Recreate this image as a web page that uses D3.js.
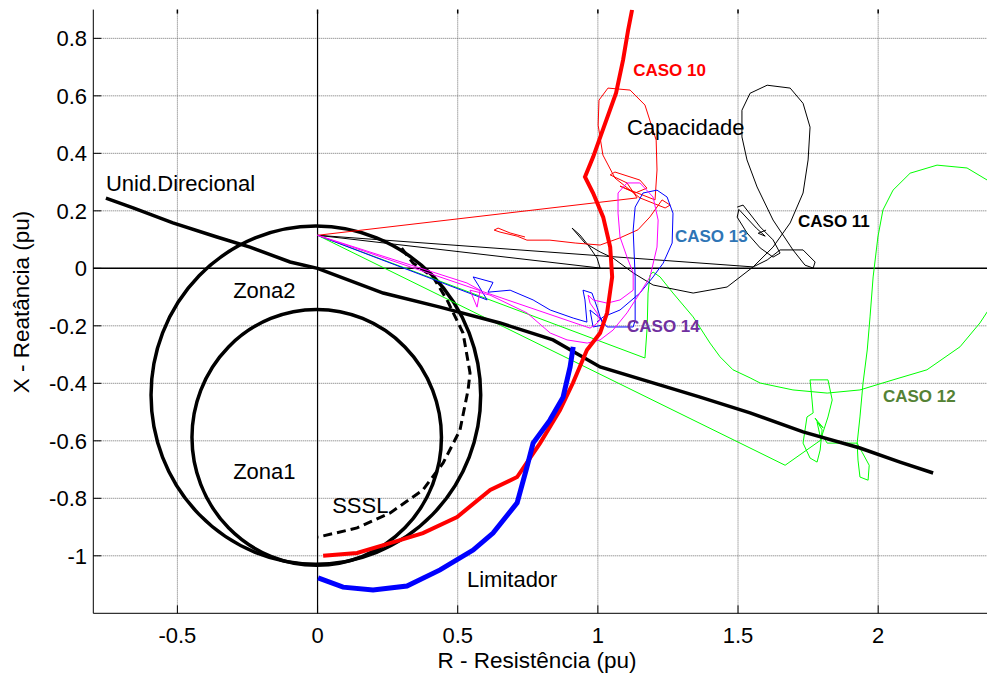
<!DOCTYPE html>
<meta charset="utf-8">
<title>Trajetorias de impedancia</title>

<style>
body{
	margin: 0;
	background: white;
}
text{
	font-family: "Liberation Sans", Arial, sans-serif;
}
</style>

<body>

<script src="https://d3js.org/d3.v7.min.js"></script>

<script>

var width = 987;
var height = 683;

// ticks
var xTicks = [-0.5, 0, 0.5, 1, 1.5, 2];
var xTickLabels = ['-0.5', '0', '0.5', '1', '1.5', '2'];
var yTicks = [-1, -0.8, -0.6, -0.4, -0.2, 0, 0.2, 0.4, 0.6, 0.8];
var yTickLabels = ['-1', '-0.8', '-0.6', '-0.4', '-0.2', '0', '0.2', '0.4', '0.6', '0.8'];

// zonas mho (centro R, centro X, raio)
var zonaNomes = ['Zona1', 'Zona2'];
var zonaCentroR = [-0.003, -0.006];
var zonaCentroX = [-0.588, -0.441];
var zonaRaio = [0.445, 0.588];

// unidade direcional
var direcional = [[-0.755, 0.244], [-0.658, 0.210], [-0.516, 0.158], [-0.359, 0.109], [-0.241, 0.074],
	[-0.098, 0.022], [0, 0], [0.234, -0.086], [0.437, -0.135], [0.651, -0.190], [0.840, -0.249],
	[1.008, -0.343], [1.247, -0.413], [1.365, -0.448], [1.543, -0.503], [1.732, -0.569],
	[1.935, -0.625], [2.078, -0.674], [2.196, -0.712]];

// SSSL (tracejado)
var sssl = [[0.300, 0.070], [0.341, 0.018], [0.412, -0.030], [0.462, -0.110], [0.519, -0.225],
	[0.544, -0.364], [0.537, -0.423], [0.508, -0.563], [0.448, -0.677], [0.376, -0.771],
	[0.259, -0.851], [0.141, -0.903], [0.002, -0.935]];

// limite de capacidade (vermelho grosso)
var capacidade = [[0.020, -1.000], [0.141, -0.990], [0.259, -0.956], [0.376, -0.921], [0.498, -0.865],
	[0.616, -0.771], [0.712, -0.726], [0.794, -0.608], [0.865, -0.493], [0.911, -0.399],
	[0.961, -0.284], [1.008, -0.225], [1.033, -0.155], [1.051, -0.030], [1.044, 0.074],
	[1.019, 0.178], [0.983, 0.262], [0.954, 0.318], [0.983, 0.387], [1.019, 0.485],
	[1.065, 0.610], [1.090, 0.725], [1.108, 0.829], [1.122, 0.899]];

// limitador (azul grosso)
var limitador = [[0.002, -1.077], [0.091, -1.109], [0.198, -1.119], [0.319, -1.105], [0.437, -1.049],
	[0.555, -0.980], [0.626, -0.921], [0.712, -0.816], [0.747, -0.691], [0.769, -0.608],
	[0.829, -0.528], [0.876, -0.448], [0.901, -0.343], [0.912, -0.273]];

// trajetorias
var caso10 = [[0, 0.115], [1.140, 0.245], [1.104, 0.297], [1.044, 0.325], [1.061, 0.335], [1.150, 0.307],
	[1.175, 0.279], [1.133, 0.262], [1.079, 0.286], [1.204, 0.238], [1.211, 0.342], [1.208, 0.446],
	[1.168, 0.568], [1.115, 0.620], [1.036, 0.627], [1.004, 0.585], [1.001, 0.498], [1.018, 0.394],
	[1.061, 0.314], [1.150, 0.245], [1.240, 0.210], [1.258, 0.220], [1.229, 0.238], [1.186, 0.179],
	[1.143, 0.134], [1.079, 0.106], [1.008, 0.081], [0.919, 0.088], [0.829, 0.098], [0.747, 0.098],
	[0.712, 0.112], [0.651, 0.126], [0.630, 0.133], [0.644, 0.140], [0.687, 0.123], [0.740, 0.109]];

var caso11 = [[0, 0.115], [1.554, 0.005], [1.604, 0.029], [1.650, 0.064], [1.732, 0.064], [1.775, 0.022],
	[1.768, 0.001], [1.739, 0.011], [1.696, 0.064], [1.625, 0.168], [1.568, 0.283], [1.532, 0.377],
	[1.514, 0.457], [1.514, 0.550], [1.543, 0.609], [1.604, 0.637], [1.686, 0.627], [1.732, 0.574],
	[1.757, 0.491], [1.750, 0.377], [1.732, 0.262], [1.686, 0.158], [1.625, 0.074], [1.554, 0.005],
	[1.461, -0.065], [1.340, -0.086], [1.197, -0.058], [1.126, -0.016], [1.054, 0.036], [1.008, 0.057],
	[0.954, 0.088], [0.908, 0.140], [0.936, 0.116], [0.965, 0.081], [0.997, 0.036], [1.008, 0.001],
	[0, 0.115]];
var caso11b = [[1.497, 0.213], [1.518, 0.220], [1.579, 0.144], [1.625, 0.099], [1.650, 0.053],
	[1.625, 0.039], [1.579, 0.071], [1.532, 0.123], [1.497, 0.178], [1.503, 0.205],
	[1.565, 0.140], [1.597, 0.112], [1.572, 0.122], [1.600, 0.133]];

var caso12 = [[0, 0.115], [1.168, -0.312], [1.176, -0.204], [1.179, -0.086], [1.186, -0.023],
	[1.197, -0.013], [1.222, -0.030], [1.268, -0.086], [1.340, -0.169], [1.400, -0.260], [1.436, -0.308],
	[1.482, -0.353], [1.543, -0.381], [1.579, -0.399], [1.696, -0.423], [1.818, -0.434], [1.935, -0.423],
	[2.053, -0.388], [2.174, -0.353], [2.292, -0.273], [2.363, -0.190], [2.417, -0.110], [2.446, 0.064],
	[2.425, 0.272], [2.389, 0.307], [2.317, 0.349], [2.210, 0.359], [2.114, 0.331], [2.053, 0.272],
	[2.017, 0.203], [1.999, 0.109], [1.982, -0.030], [1.971, -0.169], [1.961, -0.284], [1.946, -0.399],
	[1.935, -0.517], [1.925, -0.608], [1.943, -0.640], [1.968, -0.685], [1.964, -0.737], [1.935, -0.726],
	[1.928, -0.667], [1.925, -0.608], [1.864, -0.608], [1.818, -0.608], [1.800, -0.580], [1.821, -0.517],
	[1.836, -0.458], [1.821, -0.388], [1.757, -0.388], [1.764, -0.458], [1.768, -0.503], [1.746, -0.517],
	[1.732, -0.608], [1.757, -0.660], [1.782, -0.674], [1.793, -0.632], [1.800, -0.562], [1.775, -0.521],
	[1.804, -0.555], [1.782, -0.535], [1.796, -0.597], [1.668, -0.685], [0, 0.115]];

var caso13 = [[0, 0.115], [0.605, -0.110], [0.573, -0.058], [0.555, -0.030], [0.626, -0.049],
	[0.608, -0.083], [0.687, -0.076], [0.769, -0.110], [0.830, -0.145], [0.912, -0.173], [0.961, -0.187],
	[0.954, -0.110], [0.947, -0.076], [0.979, -0.086], [0.997, -0.135], [1.008, -0.169], [1.019, -0.197],
	[0.983, -0.204], [0.972, -0.145], [1.008, -0.173], [1.033, -0.204], [1.126, -0.204], [1.133, -0.180],
	[1.133, -0.030], [1.126, 0.133], [1.133, 0.213], [1.161, 0.262], [1.211, 0.272], [1.247, 0.248],
	[1.268, 0.192], [1.265, 0.088], [1.233, 0.018], [1.197, -0.030], [1.150, -0.086], [1.079, -0.145],
	[1.019, -0.169], [0.997, -0.187]];

var caso14 = [[0, 0.115], [0.533, -0.051], [0.580, -0.076], [0.569, -0.135], [0.544, -0.076],
	[0.615, -0.093], [0.747, -0.155], [0.830, -0.225], [0.890, -0.249], [0.962, -0.260], [1.008, -0.249],
	[1.054, -0.215], [1.104, -0.155], [1.150, -0.086], [1.186, -0.030], [1.211, 0.074], [1.215, 0.168],
	[1.197, 0.248], [1.150, 0.297], [1.104, 0.297], [1.072, 0.262], [1.072, 0.192], [1.079, 0.109],
	[1.104, 0.039], [1.126, -0.016], [1.126, -0.076], [1.079, -0.110], [1.033, -0.121], [0.983, -0.110],
	[0.965, -0.093], [0.972, -0.121], [0.997, -0.155], [1.008, -0.180], [0.990, -0.197], [0.972, -0.208],
	[0, 0.115]];

// textos
var textos = ['Unid.Direcional', 'Zona2', 'Zona1', 'SSSL', 'Limitador', 'Capacidade'];
var textosR = [-0.755, -0.301, -0.301, 0.052, 0.533, 1.104];
var textosX = [0.269, -0.103, -0.733, -0.851, -1.108, 0.463];

var casos = ['CASO 10', 'CASO 11', 'CASO 12', 'CASO 13', 'CASO 14'];
var casosR = [1.126, 1.714, 2.017, 1.275, 1.104];
var casosX = [0.669, 0.144, -0.465, 0.092, -0.222];
var casosCor = ['#ff0000', '#000000', '#548235', '#2e75b6', '#7030a0'];


var x = d3.scaleLinear().domain([-0.8, 2.4]).range([93.3, 990.3]);
var y = d3.scaleLinear().domain([-1.2, 0.9]).range([613.3, 9.6]);

var line = d3.line()
	.x(function(d){ return x(d[0]); })
	.y(function(d){ return y(d[1]); });

var svg = d3.select('body')
	.append('svg')
	.attr('width', width)
	.attr('height', height);

svg.append('clipPath')
	.attr('id', 'area')
	.append('rect')
	.attr('x', x(-0.8))
	.attr('y', y(0.9))
	.attr('width', x(2.4) - x(-0.8))
	.attr('height', y(-1.2) - y(0.9));

// grade
var grade = svg.append('g')
	.attr('stroke', '#707070')
	.attr('stroke-width', 1)
	.attr('stroke-dasharray', '1,1');

grade.selectAll('.gx')
	.data(xTicks)
	.enter()
	.append('line')
	.attr('x1', function(d){ return x(d); })
	.attr('x2', function(d){ return x(d); })
	.attr('y1', y(0.9))
	.attr('y2', y(-1.2));

grade.selectAll('.gy')
	.data(yTicks)
	.enter()
	.append('line')
	.attr('y1', function(d){ return y(d); })
	.attr('y2', function(d){ return y(d); })
	.attr('x1', x(-0.8))
	.attr('x2', x(2.4));

// eixos R=0 e X=0
svg.append('line')
	.attr('x1', x(0)).attr('x2', x(0))
	.attr('y1', y(0.89)).attr('y2', y(-1.2))
	.attr('stroke', 'black').attr('stroke-width', 1.2);
svg.append('line')
	.attr('x1', x(-0.8)).attr('x2', x(2.4))
	.attr('y1', y(0)).attr('y2', y(0))
	.attr('stroke', 'black').attr('stroke-width', 1.5);

var plot = svg.append('g').attr('clip-path', 'url(#area)');

// zonas
plot.selectAll('.zona')
	.data(zonaNomes)
	.enter()
	.append('ellipse')
	.attr('cx', function(d, i){ return x(zonaCentroR[i]); })
	.attr('cy', function(d, i){ return y(zonaCentroX[i]); })
	.attr('rx', function(d, i){ return x(zonaRaio[i]) - x(0); })
	.attr('ry', function(d, i){ return y(0) - y(zonaRaio[i]); })
	.attr('fill', 'none')
	.attr('stroke', 'black')
	.attr('stroke-width', 3.5);

plot.append('path')
	.attr('d', line(sssl))
	.attr('fill', 'none')
	.attr('stroke', 'black')
	.attr('stroke-width', 3)
	.attr('stroke-dasharray', '9,5');

// trajetorias finas
var finas = [
	{pts: caso12, cor: '#00ff00'},
	{pts: caso11, cor: '#000000'},
	{pts: caso11b, cor: '#000000'},
	{pts: caso10, cor: '#ff0000'},
	{pts: caso13, cor: '#0000ff'},
	{pts: caso14, cor: '#ff00ff'}
];

plot.selectAll('.fina')
	.data(finas)
	.enter()
	.append('path')
	.attr('d', function(d){ return line(d.pts); })
	.attr('fill', 'none')
	.attr('stroke', function(d){ return d.cor; })
	.attr('stroke-width', 1)
	.attr('stroke-linejoin', 'round');

plot.append('path')
	.attr('d', line(direcional))
	.attr('fill', 'none')
	.attr('stroke', 'black')
	.attr('stroke-width', 3.5);

plot.append('path')
	.attr('d', line(capacidade))
	.attr('fill', 'none')
	.attr('stroke', '#ff0000')
	.attr('stroke-width', 4);

plot.append('path')
	.attr('d', line(limitador))
	.attr('fill', 'none')
	.attr('stroke', '#0000ff')
	.attr('stroke-width', 5);

// eixos
svg.append('line')
	.attr('x1', x(-0.8)).attr('x2', x(-0.8))
	.attr('y1', y(0.9)).attr('y2', y(-1.2))
	.attr('stroke', 'black');
svg.append('line')
	.attr('x1', x(-0.8)).attr('x2', x(2.4))
	.attr('y1', y(-1.2)).attr('y2', y(-1.2))
	.attr('stroke', 'black');

svg.selectAll('.tl')
	.data(yTicks)
	.enter()
	.append('line')
	.attr('x1', x(-0.8)).attr('x2', x(-0.8) + 8)
	.attr('y1', function(d){ return y(d); })
	.attr('y2', function(d){ return y(d); })
	.attr('stroke', 'black');

svg.selectAll('.tb')
	.data(xTicks)
	.enter()
	.append('line')
	.attr('x1', function(d){ return x(d); })
	.attr('x2', function(d){ return x(d); })
	.attr('y1', y(-1.2)).attr('y2', y(-1.2) - 8)
	.attr('stroke', 'black');

svg.selectAll('.tt')
	.data(xTicks)
	.enter()
	.append('line')
	.attr('x1', function(d){ return x(d); })
	.attr('x2', function(d){ return x(d); })
	.attr('y1', y(0.9)).attr('y2', y(0.9) + 4)
	.attr('stroke', 'black')
	.attr('stroke-width', 1.5);

svg.selectAll('.yl')
	.data(yTicks)
	.enter()
	.append('text')
	.attr('x', 87)
	.attr('y', function(d){ return y(d); })
	.attr('dy', '0.35em')
	.attr('text-anchor', 'end')
	.attr('font-size', 22)
	.text(function(d, i){ return yTickLabels[i]; });

svg.selectAll('.xl')
	.data(xTicks)
	.enter()
	.append('text')
	.attr('x', function(d){ return x(d); })
	.attr('y', 643)
	.attr('text-anchor', 'middle')
	.attr('font-size', 22)
	.text(function(d, i){ return xTickLabels[i]; });

svg.append('text')
	.attr('x', 537)
	.attr('y', 668)
	.attr('text-anchor', 'middle')
	.attr('font-size', 22.5)
	.text('R - Resistência (pu)');

svg.append('text')
	.attr('transform', 'translate(29,302) rotate(-90)')
	.attr('text-anchor', 'middle')
	.attr('font-size', 22.5)
	.text('X - Reatância (pu)');

svg.selectAll('.rot')
	.data(textos)
	.enter()
	.append('text')
	.attr('x', function(d, i){ return x(textosR[i]); })
	.attr('y', function(d, i){ return y(textosX[i]); })
	.attr('font-size', 22)
	.text(function(d){ return d; });

svg.selectAll('.caso')
	.data(casos)
	.enter()
	.append('text')
	.attr('x', function(d, i){ return x(casosR[i]); })
	.attr('y', function(d, i){ return y(casosX[i]); })
	.attr('font-family', 'Lato, "Open Sans", sans-serif')
	.attr('font-weight', 'bold')
	.attr('font-size', 17)
	.attr('fill', function(d, i){ return casosCor[i]; })
	.text(function(d){ return d; });

</script>
</body>
